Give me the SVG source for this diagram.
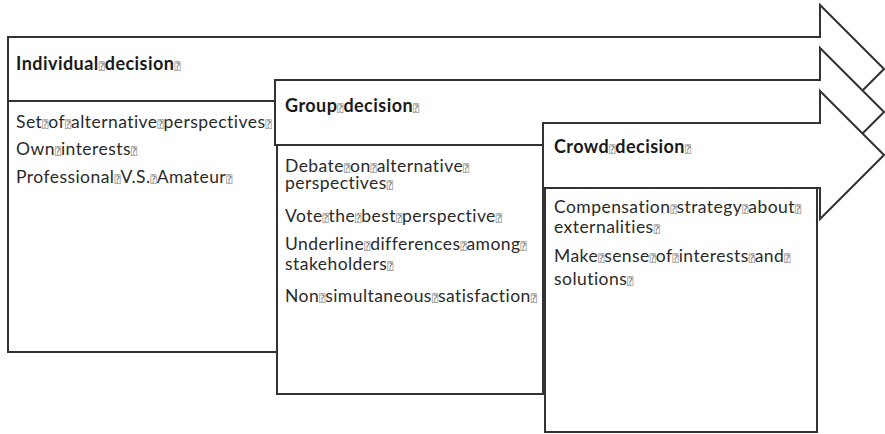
<svg xmlns="http://www.w3.org/2000/svg" width="885" height="434" viewBox="0 0 885 434">
  <style>
    .shape { fill: #ffffff; stroke: #333333; stroke-width: 2; stroke-linejoin: miter; }
    .title { font-family: Lato, "Liberation Sans", sans-serif; font-size: 18px; font-weight: bold; letter-spacing: 0.45px; fill: #1a1a1a; }
    .body { font-family: Lato, "Liberation Sans", sans-serif; font-size: 17.5px; letter-spacing: 0.45px; fill: #2a2a2a; }
    .q { font-family: "DejaVu Sans Mono", "DejaVu Sans", monospace; font-size: 10px; font-weight: normal; letter-spacing: 0; fill: #777777; }
  </style>

  <!-- Individual decision: arrow band with its list box -->
  <g id="individual">
    <path class="shape" d="M8,37 H820 V5 L884,69 L820,133 V101 H8 Z"/>
    <text class="title" x="16" y="70">Individual<tspan class="q">⍰</tspan>decision<tspan class="q">⍰</tspan></text>
    <rect class="shape" x="8" y="101" width="269" height="251"/>
    <text class="body" x="16" y="128">Set<tspan class="q">⍰</tspan>of<tspan class="q">⍰</tspan>alternative<tspan class="q">⍰</tspan>perspectives<tspan class="q">⍰</tspan></text>
    <text class="body" x="16" y="155">Own<tspan class="q">⍰</tspan>interests<tspan class="q">⍰</tspan></text>
    <text class="body" x="16" y="183">Professional<tspan class="q">⍰</tspan>V.S.<tspan class="q">⍰</tspan>Amateur<tspan class="q">⍰</tspan></text>
  </g>

  <!-- Group decision -->
  <g id="group">
    <path class="shape" d="M275,80 H820 V48 L884,112 L820,176 V145 H275 Z"/>
    <text class="title" x="285" y="112">Group<tspan class="q">⍰</tspan>decision<tspan class="q">⍰</tspan></text>
    <rect class="shape" x="277" y="145" width="266" height="249"/>
    <text class="body" x="285" y="172">Debate<tspan class="q">⍰</tspan>on<tspan class="q">⍰</tspan>alternative<tspan class="q">⍰</tspan></text>
    <text class="body" x="285" y="189">perspectives<tspan class="q">⍰</tspan></text>
    <text class="body" x="285" y="222">Vote<tspan class="q">⍰</tspan>the<tspan class="q">⍰</tspan>best<tspan class="q">⍰</tspan>perspective<tspan class="q">⍰</tspan></text>
    <text class="body" x="285" y="250">Underline<tspan class="q">⍰</tspan>differences<tspan class="q">⍰</tspan>among<tspan class="q">⍰</tspan></text>
    <text class="body" x="285" y="270">stakeholders<tspan class="q">⍰</tspan></text>
    <text class="body" x="285" y="302">Non<tspan class="q">⍰</tspan>simultaneous<tspan class="q">⍰</tspan>satisfaction<tspan class="q">⍰</tspan></text>
  </g>

  <!-- Crowd decision -->
  <g id="crowd">
    <path class="shape" d="M543,123 H820 V91 L884,155 L820,219 V188 H543 Z"/>
    <text class="title" x="554" y="153">Crowd<tspan class="q">⍰</tspan>decision<tspan class="q">⍰</tspan></text>
    <rect class="shape" x="545" y="188" width="272" height="244"/>
    <text class="body" x="554" y="213">Compensation<tspan class="q">⍰</tspan>strategy<tspan class="q">⍰</tspan>about<tspan class="q">⍰</tspan></text>
    <text class="body" x="554" y="233">externalities<tspan class="q">⍰</tspan></text>
    <text class="body" x="554" y="262">Make<tspan class="q">⍰</tspan>sense<tspan class="q">⍰</tspan>of<tspan class="q">⍰</tspan>interests<tspan class="q">⍰</tspan>and<tspan class="q">⍰</tspan></text>
    <text class="body" x="554" y="285">solutions<tspan class="q">⍰</tspan></text>
  </g>

  <!-- the stages touch directly; no separate connector lines -->
  <g id="connectors"/>
</svg>
